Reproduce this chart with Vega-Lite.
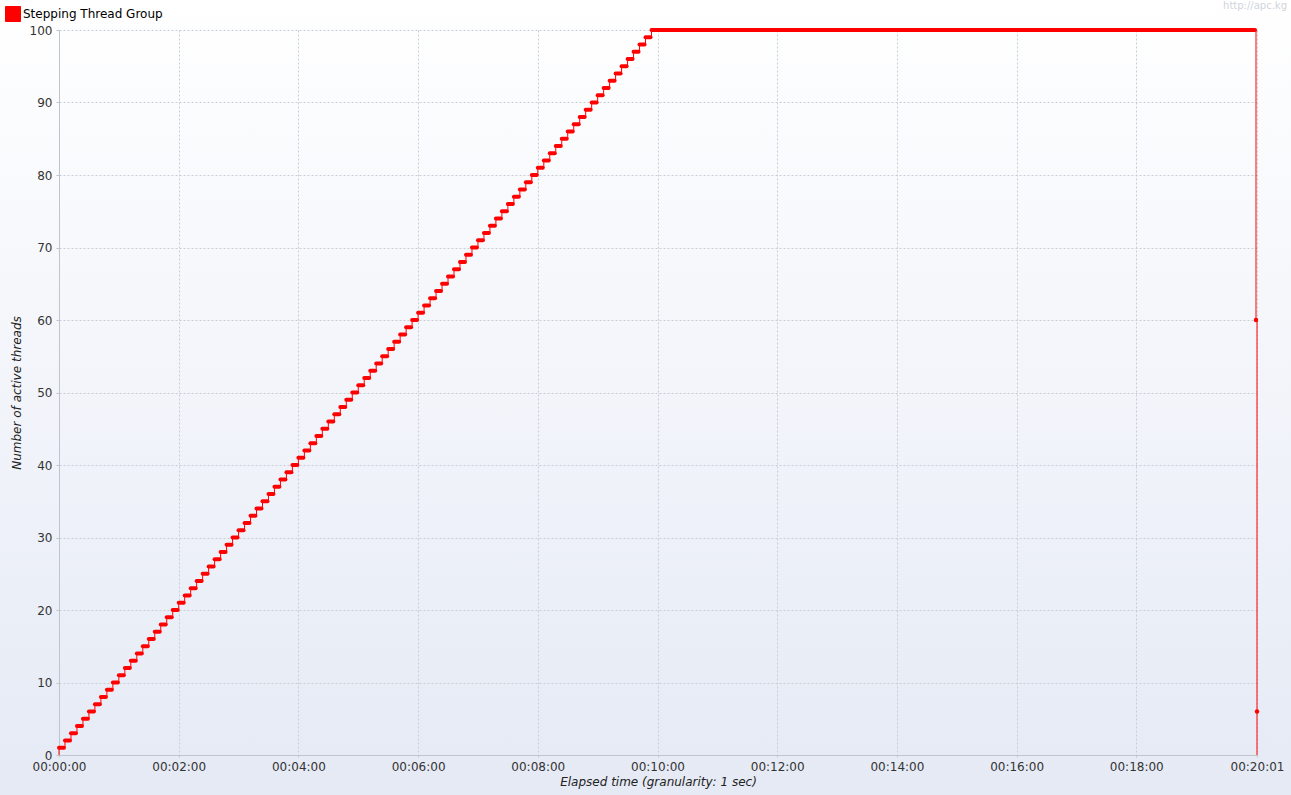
{
"$schema": "https://vega.github.io/schema/vega-lite/v6.json",
"width": 1291,
"height": 785,
"autosize": {"type": "none"},
"padding": {"left": 0, "top": 0, "right": 0, "bottom": 10},
"background": "#e5eaf5",
"config": {
  "font": "DejaVu Sans",
  "view": {"stroke": null, "fill": {"gradient": "linear", "x1": 0, "y1": 0, "x2": 0, "y2": 1, "stops": [{"offset": 0, "color": "#ffffff"}, {"offset": 1, "color": "#e5eaf5"}]}}
},
"title": {"text": "http://apc.kg", "orient": "top", "anchor": "end", "frame": "group", "offset": -19, "dx": -4, "fontSize": 10, "fontWeight": "normal", "color": "#d0d4dc", "font": "DejaVu Sans", "baseline": "alphabetic"},
"data": {"values": [
{"s":0,"e":0,"v":0},
{"s":0,"e":5,"v":1},{"s":6,"e":11,"v":2},{"s":12,"e":17,"v":3},{"s":18,"e":23,"v":4},{"s":24,"e":29,"v":5},
{"s":30,"e":35,"v":6},{"s":36,"e":41,"v":7},{"s":42,"e":47,"v":8},{"s":48,"e":53,"v":9},{"s":54,"e":59,"v":10},
{"s":60,"e":65,"v":11},{"s":66,"e":71,"v":12},{"s":72,"e":77,"v":13},{"s":78,"e":83,"v":14},{"s":84,"e":89,"v":15},
{"s":90,"e":95,"v":16},{"s":96,"e":101,"v":17},{"s":102,"e":107,"v":18},{"s":108,"e":113,"v":19},{"s":114,"e":119,"v":20},
{"s":120,"e":125,"v":21},{"s":126,"e":131,"v":22},{"s":132,"e":137,"v":23},{"s":138,"e":143,"v":24},{"s":144,"e":149,"v":25},
{"s":150,"e":155,"v":26},{"s":156,"e":161,"v":27},{"s":162,"e":167,"v":28},{"s":168,"e":173,"v":29},{"s":174,"e":179,"v":30},
{"s":180,"e":185,"v":31},{"s":186,"e":191,"v":32},{"s":192,"e":197,"v":33},{"s":198,"e":203,"v":34},{"s":204,"e":209,"v":35},
{"s":210,"e":215,"v":36},{"s":216,"e":221,"v":37},{"s":222,"e":227,"v":38},{"s":228,"e":233,"v":39},{"s":234,"e":239,"v":40},
{"s":240,"e":245,"v":41},{"s":246,"e":251,"v":42},{"s":252,"e":257,"v":43},{"s":258,"e":263,"v":44},{"s":264,"e":269,"v":45},
{"s":270,"e":275,"v":46},{"s":276,"e":281,"v":47},{"s":282,"e":287,"v":48},{"s":288,"e":293,"v":49},{"s":294,"e":299,"v":50},
{"s":300,"e":305,"v":51},{"s":306,"e":311,"v":52},{"s":312,"e":317,"v":53},{"s":318,"e":323,"v":54},{"s":324,"e":329,"v":55},
{"s":330,"e":335,"v":56},{"s":336,"e":341,"v":57},{"s":342,"e":347,"v":58},{"s":348,"e":353,"v":59},{"s":354,"e":359,"v":60},
{"s":360,"e":365,"v":61},{"s":366,"e":371,"v":62},{"s":372,"e":377,"v":63},{"s":378,"e":383,"v":64},{"s":384,"e":389,"v":65},
{"s":390,"e":395,"v":66},{"s":396,"e":401,"v":67},{"s":402,"e":407,"v":68},{"s":408,"e":413,"v":69},{"s":414,"e":419,"v":70},
{"s":420,"e":425,"v":71},{"s":426,"e":431,"v":72},{"s":432,"e":437,"v":73},{"s":438,"e":443,"v":74},{"s":444,"e":449,"v":75},
{"s":450,"e":455,"v":76},{"s":456,"e":461,"v":77},{"s":462,"e":467,"v":78},{"s":468,"e":473,"v":79},{"s":474,"e":479,"v":80},
{"s":480,"e":485,"v":81},{"s":486,"e":491,"v":82},{"s":492,"e":497,"v":83},{"s":498,"e":503,"v":84},{"s":504,"e":509,"v":85},
{"s":510,"e":515,"v":86},{"s":516,"e":521,"v":87},{"s":522,"e":527,"v":88},{"s":528,"e":533,"v":89},{"s":534,"e":539,"v":90},
{"s":540,"e":545,"v":91},{"s":546,"e":551,"v":92},{"s":552,"e":557,"v":93},{"s":558,"e":563,"v":94},{"s":564,"e":569,"v":95},
{"s":570,"e":575,"v":96},{"s":576,"e":581,"v":97},{"s":582,"e":587,"v":98},{"s":588,"e":593,"v":99},{"s":594,"e":1199,"v":100},
{"s":1200,"e":1200,"v":60},{"s":1201,"e":1201,"v":6},{"s":1201,"e":1201,"v":0}
]},
"layer": [
  {
    "mark": {"type": "line", "interpolate": "step-after", "color": "#ff0000", "strokeWidth": 1},
    "encoding": {
      "x": {"field": "s", "type": "quantitative",
        "scale": {"domain": [0, 1201], "range": [59, 1257], "nice": false, "zero": false},
        "axis": {"title": "Elapsed time (granularity: 1 sec)", "orient": "bottom", "offset": -30,
          "values": [0, 120, 240, 360, 480, 600, 720, 840, 960, 1080, 1201],
          "labelExpr": "utcFormat(datum.value * 1000, '%H:%M:%S')",
          "grid": true, "gridColor": "#c8ccd6", "gridDash": [2, 2], "gridWidth": 1,
          "domainColor": "#c0c4cc", "tickColor": "#c0c4cc", "tickSize": 2,
          "labelPadding": 4, "labelFontSize": 12, "labelColor": "#333333", "labelFlush": false, "labelOverlap": false,
          "titleFontSize": 12, "titleFontStyle": "italic", "titleFontWeight": "normal", "titleColor": "#222222", "titlePadding": 4}},
      "y": {"field": "v", "type": "quantitative",
        "scale": {"domain": [0, 100], "range": [755, 30], "nice": false, "zero": false},
        "axis": {"title": "Number of active threads", "orient": "left", "offset": -59,
          "values": [0, 10, 20, 30, 40, 50, 60, 70, 80, 90, 100],
          "grid": true, "gridColor": "#c8ccd6", "gridDash": [2, 2], "gridWidth": 1,
          "domainColor": "#c0c4cc", "tickColor": "#c0c4cc", "tickSize": 3,
          "labelPadding": 4, "labelFontSize": 12, "labelColor": "#333333", "labelFlush": false,
          "titleFontSize": 12, "titleFontStyle": "italic", "titleFontWeight": "normal", "titleColor": "#222222", "titlePadding": 6}}
    }
  },
  {
    "transform": [{"filter": "datum.e > datum.s"}],
    "mark": {"type": "rule", "strokeWidth": 4, "strokeCap": "round"},
    "encoding": {
      "x": {"field": "s", "type": "quantitative"},
      "x2": {"field": "e"},
      "y": {"field": "v", "type": "quantitative"},
      "color": {"datum": "Stepping Thread Group", "type": "nominal",
        "scale": {"range": ["#ff0000"]},
        "legend": {"title": null, "orient": "none", "legendX": 5, "legendY": 6, "padding": 0,
          "labelFontSize": 12, "labelColor": "#000000", "labelOffset": 2, "symbolSize": 225,
          "encode": {"symbols": {"update": {"shape": {"value": "square"}, "fill": {"value": "#ff0000"}, "stroke": {"value": "#000000"}, "strokeWidth": {"value": 1}, "size": {"value": 225}, "opacity": {"value": 1}}}}}}
    }
  },
  {
    "transform": [{"filter": "datum.e == datum.s && datum.v > 0"}],
    "mark": {"type": "point", "filled": true, "color": "#ff0000", "size": 20, "opacity": 1},
    "encoding": {
      "x": {"field": "s", "type": "quantitative"},
      "y": {"field": "v", "type": "quantitative"}
    }
  }
]
}
